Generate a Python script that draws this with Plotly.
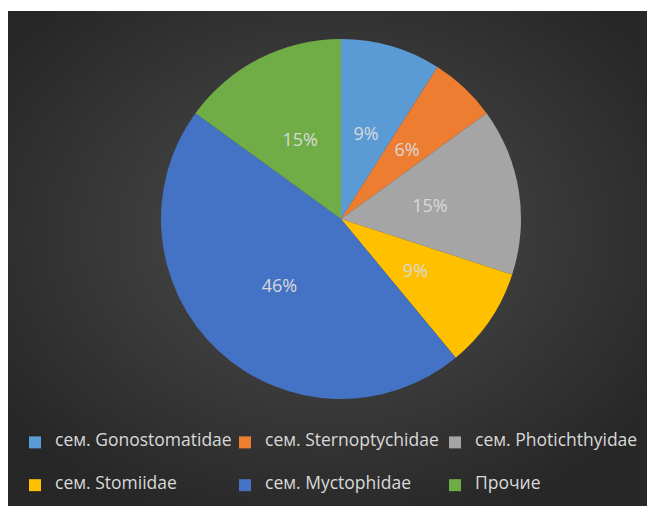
import base64
import plotly.graph_objects as go

# Fish family composition (share of catch, %)
families = [
    "сем. Gonostomatidae",
    "сем. Sternoptychidae",
    "сем. Photichthyidae",
    "сем. Stomiidae",
    "сем. Myctophidae",
    "Прочие",
]
shares = [9, 6, 15, 9, 46, 15]
colors = ["#5B9BD5", "#ED7D31", "#A5A5A5", "#FFC000", "#4472C4", "#70AD47"]

W, H = 647, 506
TEXT = "#D9D9D9"
FONT = "Open Sans, Noto Sans, sans-serif"

# pie geometry in pixels (centre and radius)
CX, CY, R = 341, 219, 180
# percentage labels sit on a transparent ring whose mid-line is at half the radius
LABEL_HOLE = 0.57
R_LBL = 0.5 * R / ((1 + LABEL_HOLE) / 2)


def domain(radius):
    return dict(
        x=[(CX - radius) / W, (CX + radius) / W],
        y=[1 - (CY + radius) / H, 1 - (CY - radius) / H],
    )


# dark radial-gradient panel behind the chart
bg_svg = (
    "<svg xmlns='http://www.w3.org/2000/svg' width='639' height='495'>"
    "<defs><radialGradient id='g' cx='50%' cy='45%' r='62%'>"
    "<stop offset='0' stop-color='#4e4e4e'/>"
    "<stop offset='1' stop-color='#272727'/>"
    "</radialGradient></defs>"
    "<rect width='639' height='495' fill='url(#g)'/></svg>"
)
bg_uri = "data:image/svg+xml;base64," + base64.b64encode(bg_svg.encode()).decode()

# legend entries: padded with empty lines to get the taller row pitch
legend_names = [
    "<br><span style='font-size:17.5px'>%s</span><br>" % name for name in families
]

fig = go.Figure()

# coloured slices
fig.add_trace(
    go.Pie(
        labels=legend_names,
        values=shares,
        sort=False,
        direction="clockwise",
        rotation=0,
        marker=dict(colors=colors, line=dict(width=0)),
        textinfo="none",
        domain=domain(R),
        hoverinfo="skip",
    )
)

# percentage labels
fig.add_trace(
    go.Pie(
        labels=legend_names,
        values=shares,
        sort=False,
        direction="clockwise",
        rotation=0,
        hole=LABEL_HOLE,
        marker=dict(colors=["rgba(0,0,0,0)"] * len(shares), line=dict(width=0)),
        texttemplate="%{percent:.0%}",
        textposition="inside",
        insidetextorientation="horizontal",
        textfont=dict(family=FONT, size=18, color=TEXT),
        domain=domain(R_LBL),
        showlegend=False,
        hoverinfo="skip",
    )
)

fig.update_layout(
    width=W,
    height=H,
    margin=dict(l=0, r=0, t=0, b=0, autoexpand=False),
    paper_bgcolor="white",
    font=dict(family=FONT, color=TEXT),
    showlegend=True,
    uniformtext=dict(minsize=18, mode="show"),
    legend=dict(
        orientation="h",
        x=15 / W,
        xanchor="left",
        y=1 - 416 / H,
        yanchor="top",
        font=dict(family=FONT, size=10.2, color=TEXT),
        entrywidth=165,
        entrywidthmode="pixels",
        bgcolor="rgba(0,0,0,0)",
        traceorder="normal",
    ),
    images=[
        dict(
            source=bg_uri,
            xref="paper",
            yref="paper",
            x=8 / W,
            y=1 - 11 / H,
            sizex=1 - 8 / W,
            sizey=1 - 11 / H,
            xanchor="left",
            yanchor="top",
            sizing="stretch",
            layer="below",
        )
    ],
)

fig.write_html("out.html")
